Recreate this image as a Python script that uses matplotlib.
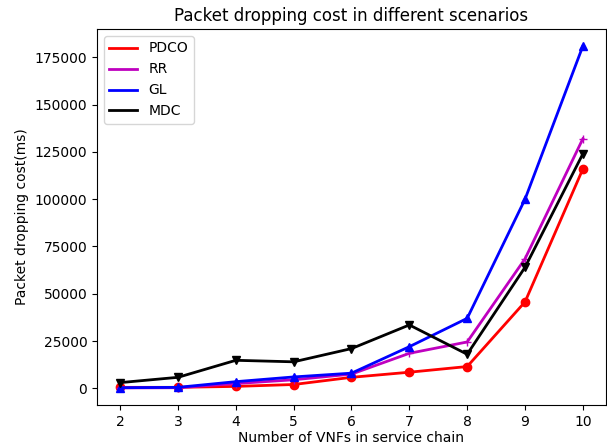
import matplotlib
matplotlib.use("Agg")
import matplotlib.pyplot as plt
from matplotlib.lines import Line2D

vnfs = [2, 3, 4, 5, 6, 7, 8, 9, 10]
pdco = [500, 500, 1000, 2000, 5800, 8500, 11500, 45700, 116000]
rr = [200, 300, 2500, 4500, 7500, 18500, 24500, 68500, 132000]
gl = [300, 500, 3500, 6000, 8000, 22000, 37000, 100000, 181000]
mdc = [3000, 5800, 14800, 14000, 21000, 33500, 18000, 64000, 124000]
labels = ['PDCO', 'RR', 'GL', 'MDC']
colors = ['r', 'm', 'b', 'k']
markers = ['o', '+', '^', 'v']

fig = plt.figure(figsize=(6.07, 4.45), dpi=100)
ax = fig.add_axes([97/607, 1-405/445, (606-97)/607, (405-29)/445])

for ys, c, m in zip([pdco, rr, gl, mdc], colors, markers):
    ax.plot(vnfs, ys, color=c, marker=m, linewidth=2)

handles = [Line2D([], [], color=c, linewidth=2) for c in colors]
ax.legend(handles, labels, loc='upper left')

ax.set_title('Packet dropping cost in different scenarios')
ax.set_xlabel('Number of VNFs in service chain', labelpad=2)
ax.set_ylabel('Packet dropping cost(ms)')

fig.savefig('out.png', dpi=100)
